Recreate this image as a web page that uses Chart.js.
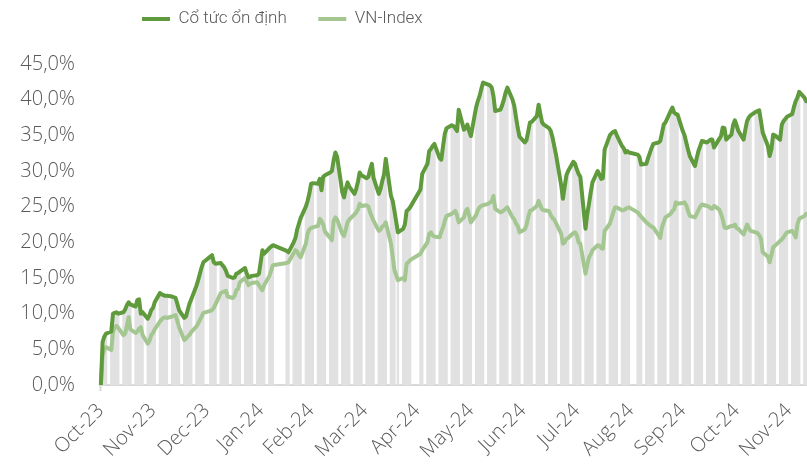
<!DOCTYPE html>
<html>
<head>
<meta charset="utf-8">
<script src="https://cdn.jsdelivr.net/npm/chart.js@4.4.1/dist/chart.umd.min.js"></script>
<style>
    html, body { margin: 0; padding: 0; background: #ffffff; }
    #chart_wrap { width: 807px; height: 474px; position: relative; }
</style>
</head>
<body>
<div id="chart_wrap"><canvas id="perf_chart"></canvas></div>
<script>
const SERIES_NAMES = ['Cổ tức ổn định', 'VN-Index'];
const START_DATE = '2023-10-31';
const END_DATE = '2024-12-10';
const HOLIDAYS = ['2024-01-01', '2024-02-08', '2024-02-09', '2024-02-12', '2024-02-13', '2024-02-14',
    '2024-04-18', '2024-04-29', '2024-04-30', '2024-05-01', '2024-09-02', '2024-09-03'];
const MONTH_NAMES = ['Jan', 'Feb', 'Mar', 'Apr', 'May', 'Jun', 'Jul', 'Aug', 'Sep', 'Oct', 'Nov', 'Dec'];
const Y_MIN = 0;
const Y_MAX = 45;
const Y_STEP = 5;

// cumulative return (%), one value per trading day
const stableDividend = [
    0,
    6.0, 6.8, 7.2, 7.5, 10.0, 10.1, 10.2, 10.0, 10.2, 10.6, 11.2, 11.6, 11.3, 11.0, 11.9, 12.0, 10.0, 10.2, 9.3, 9.8, 10.5, 10.8,
    11.6, 12.9, 12.7, 12.6, 12.5, 12.5, 12.4, 12.3, 12.2, 11.4, 10.5, 9.4, 9.6, 10.5, 11.4, 12.0, 13.9, 14.7, 15.6, 16.5, 17.2,
    18.0, 18.2, 17.2, 17.0, 17.1, 16.8, 16.5, 16.0, 15.3, 15.0, 15.1, 15.6, 15.7, 15.9, 16.4, 15.6, 15.1, 15.2, 15.3, 15.4, 15.6, 17.2,
    18.9, 18.4, 19.2, 19.4, 19.6, 18.8, 18.6, 20.0, 20.6, 21.8, 22.6, 23.4, 25.0, 25.8, 26.8, 28.2,
    28.3, 28.2, 28.9, 27.3, 29.2, 29.4, 29.8, 30.0, 31.5, 32.6, 32.0, 27.0, 26.3, 27.5, 28.4, 27.8, 26.8, 27.5, 28.5, 29.8, 29.4,
    29.0, 29.2, 30.2, 31.0, 29.0, 26.8, 27.5, 28.6, 29.5, 31.7, 26.5, 25.8, 24.4, 21.4, 21.9, 22.5, 24.4, 24.6, 24.9,
    27.4, 29.6, 31.0, 32.8, 33.1, 33.5, 33.8, 31.8, 31.6, 33.5, 35.2, 36.0, 36.4, 36.3, 36.0, 35.6, 38.6, 35.8, 36.0, 36.5, 35.6, 34.9,
    38.9, 39.8, 40.5, 41.5, 42.4, 42.1, 42.0, 41.7, 40.5, 38.4, 38.6, 39.2, 40.0, 41.0, 41.7, 40.0, 39.1, 37.5, 36.0, 34.8,
    34.0, 34.3, 35.5, 36.8, 36.9, 37.7, 39.3, 38.0, 36.8, 36.5, 36.0, 35.6, 34.7, 33.5, 32.3, 28.0, 26.1, 27.8, 29.4, 30.0, 31.3, 31.0, 30.2,
    29.6, 29.2, 21.9, 24.0, 25.4, 27.0, 28.4, 30.0, 29.5, 28.9, 29.0, 33.0, 35.0, 35.3, 35.5, 35.6, 35.0, 33.5, 33.2, 32.6, 32.8, 32.6,
    32.3, 32.0, 30.9, 31.0, 31.8, 32.5, 33.2, 33.8, 34.0, 34.2, 35.3, 36.5, 36.8, 38.4, 38.9, 38.2, 38.0, 37.9, 35.6,
    35.0, 34.0, 33.0, 32.1, 30.7, 31.8, 32.8, 33.5, 34.2, 34.0, 34.2, 34.4, 34.4, 33.3, 34.5, 34.9, 36.1, 36.0, 34.4, 35.1, 36.5, 37.1, 36.4,
    35.6, 34.4, 35.8, 37.0, 37.5, 37.8, 38.3, 38.4, 38.5, 37.0, 35.4, 33.5, 32.1, 33.0, 35.1, 35.0, 34.4, 36.5, 37.0, 37.3, 37.6,
    38.0, 39.0, 39.8, 40.3, 41.1, 40.3, 39.8
];

const vnIndex = [
    0,
    4.2, 5.0, 5.3, 4.9, 7.5, 8.1, 8.3, 8.0, 7.0, 7.2, 8.3, 9.5, 7.8, 7.3, 7.5, 7.9, 8.1, 7.0, 5.8, 6.2, 7.0, 7.3,
    7.8, 8.9, 9.2, 9.4, 9.5, 9.4, 9.6, 9.7, 9.8, 9.0, 8.1, 6.3, 6.5, 6.8, 7.0, 7.4, 8.2, 8.6, 9.1, 9.6, 10.1,
    10.4, 10.5, 10.8, 11.3, 12.9, 13.0, 13.1, 13.2, 12.4, 12.2, 12.5, 13.3, 13.5, 14.4, 15.0, 14.5, 14.0, 14.2, 14.3, 14.4, 14.0, 13.6,
    13.3, 14.0, 15.3, 16.0, 16.8, 17.1, 17.2, 18.5, 18.9, 18.7, 18.2, 17.9, 19.8, 21.2, 21.8, 22.0,
    22.1, 22.3, 23.3, 23.0, 22.5, 21.5, 20.6, 20.3, 23.0, 23.5, 23.2, 21.2, 20.9, 21.8, 22.8, 23.2, 23.9, 24.2, 24.6, 25.4, 25.1,
    25.2, 25.0, 24.2, 23.6, 23.0, 21.6, 21.8, 22.2, 22.4, 22.8, 19.8, 18.0, 16.1, 14.7, 15.0, 14.7, 17.0, 17.2, 17.5,
    18.4, 18.9, 20.0, 21.2, 21.4, 21.0, 20.8, 20.7, 21.5, 22.1, 23.0, 23.7, 24.0, 24.2, 24.4, 23.8, 22.8, 23.5, 24.4, 24.7, 23.8, 22.8,
    23.8, 24.5, 24.9, 25.1, 25.2, 25.4, 25.6, 25.7, 26.5, 24.7, 24.2, 24.3, 24.5, 24.7, 24.9, 23.5, 23.2, 22.6, 22.3, 21.4,
    21.8, 22.4, 23.5, 24.4, 24.5, 25.1, 25.8, 25.2, 24.6, 24.5, 24.4, 23.8, 23.4, 23.2, 22.7, 21.2, 19.8, 20.0, 20.5, 20.6, 21.3, 21.4, 21.0,
    20.0, 19.8, 15.6, 16.8, 17.9, 18.3, 18.9, 19.6, 19.5, 19.2, 19.1, 21.6, 22.6, 23.4, 24.2, 24.9, 24.9, 24.5, 24.5, 24.7, 24.8, 24.9,
    24.2, 23.9, 23.6, 22.8, 22.6, 22.4, 22.2, 22.1, 21.0, 20.6, 22.1, 22.8, 23.5, 24.0, 24.4, 24.6, 25.6, 25.4, 25.5,
    25.6, 25.2, 24.4, 23.7, 23.5, 24.0, 24.5, 25.0, 25.3, 25.1, 25.0, 24.8, 24.7, 25.1, 24.6, 24.0, 23.2, 22.1, 22.0, 22.3, 22.3, 22.5, 22.0,
    21.9, 21.1, 21.8, 22.5, 22.0, 21.6, 21.4, 21.3, 21.0, 20.5, 18.6, 18.0, 17.2, 18.2, 19.3, 19.5, 20.2, 20.4, 20.7, 21.1, 21.4,
    21.6, 21.2, 20.7, 22.5, 23.3, 23.7, 24.0
];

const COLORS = {
    DARK_GREEN: '#5f9b3c',
    LIGHT_GREEN: '#a4c792',
    BAR_GREY: '#e1e1e1',
    AXIS: '#d9d9d9',
    TEXT: '#595959'
};
const AXIS_FONT = '"Open Sans", Lato, sans-serif';
const LEGEND_FONT = 'Roboto, "Liberation Sans", sans-serif';
const LEGEND_HEIGHT = 64;

// one category per calendar day, weekends and holidays stay empty
const buildDailySeries = () => {
    var days = [];
    var divData = [];
    var vnData = [];
    var k = 0;
    for (var t = Date.parse(START_DATE); t <= Date.parse(END_DATE); t += 86400000) {
        var d = new Date(t);
        var iso = d.toISOString().slice(0, 10);
        var wd = d.getUTCDay();
        days.push(d);
        if (wd === 0 || wd === 6 || HOLIDAYS.includes(iso)) {
            divData.push(null);
            vnData.push(null);
        } else {
            divData.push(k < stableDividend.length ? stableDividend[k] : null);
            vnData.push(k < vnIndex.length ? vnIndex[k] : null);
            k++;
        }
    }
    return { days, divData, vnData };
};

const daily = buildDailySeries();

const isMonthEnd = (index) => {
    var d = daily.days[index];
    if (!d) return false;
    var next = new Date(d.getTime() + 86400000);
    return next.getUTCMonth() !== d.getUTCMonth();
};

const monthLabel = (index) => {
    var d = daily.days[index];
    return MONTH_NAMES[d.getUTCMonth()] + '-' + String(d.getUTCFullYear()).slice(2);
};

// fixed legend band height, and the legend moved to where the original has it
const legendPlacement = {
    id: 'legendPlacement',
    beforeInit(chart) {
        var legend = chart.legend;
        var origFit = legend.fit;
        legend.fit = function() {
            origFit.call(this);
            this.height = LEGEND_HEIGHT;
        };
    },
    afterLayout(chart) {
        chart.legend.left = 110.5;
        chart.legend.top = -21;
    }
};

const config = {
    type: 'bar',
    data: {
        labels: daily.days.map((d) => d.toISOString().slice(0, 10)),
        datasets: [
            {
                type: 'line',
                label: SERIES_NAMES[0],
                data: daily.divData,
                borderColor: COLORS.DARK_GREEN,
                backgroundColor: COLORS.DARK_GREEN,
                borderWidth: 4,
                borderCapStyle: 'round',
                borderJoinStyle: 'round',
                pointRadius: 0,
                spanGaps: true,
                tension: 0,
                order: 0
            },
            {
                type: 'line',
                label: SERIES_NAMES[1],
                data: daily.vnData,
                borderColor: COLORS.LIGHT_GREEN,
                backgroundColor: COLORS.LIGHT_GREEN,
                borderWidth: 4,
                borderCapStyle: 'round',
                borderJoinStyle: 'round',
                pointRadius: 0,
                spanGaps: true,
                tension: 0,
                order: 1
            },
            {
                type: 'bar',
                label: 'bars',
                data: daily.divData,
                backgroundColor: COLORS.BAR_GREY,
                borderWidth: 0,
                categoryPercentage: 1,
                barPercentage: 1,
                order: 2
            }
        ]
    },
    options: {
        responsive: true,
        maintainAspectRatio: false,
        animation: false,
        layout: { padding: { left: 0, right: 0, top: 0, bottom: 0 } },
        plugins: {
            legend: {
                display: true,
                position: 'top',
                align: 'start',
                labels: {
                    filter: (item) => item.datasetIndex < 2,
                    usePointStyle: true,
                    pointStyle: 'line',
                    pointStyleWidth: 28,
                    padding: 31.5,
                    color: COLORS.TEXT,
                    font: { family: LEGEND_FONT, size: 17, weight: 300 }
                }
            },
            tooltip: { enabled: false }
        },
        scales: {
            x: {
                offset: true,
                afterFit: (scale) => {
                    scale.height = 89;
                    scale.paddingRight = 0;
                },
                grid: {
                    display: true,
                    offset: false,
                    drawOnChartArea: false,
                    drawTicks: true,
                    tickLength: 6,
                    tickWidth: 2,
                    tickColor: (ctx) => isMonthEnd(ctx.index) ? COLORS.AXIS : 'rgba(0,0,0,0)'
                },
                border: { display: true, color: COLORS.AXIS, width: 2 },
                ticks: {
                    autoSkip: false,
                    maxRotation: 45,
                    minRotation: 45,
                    padding: 8,
                    color: COLORS.TEXT,
                    font: { family: AXIS_FONT, size: 20, weight: 300 },
                    callback: function(value, index) {
                        return isMonthEnd(index) ? monthLabel(index) : null;
                    }
                }
            },
            y: {
                min: Y_MIN,
                max: Y_MAX,
                afterFit: (scale) => { scale.width = 100; },
                grid: { display: false, drawTicks: false },
                border: { display: false },
                ticks: {
                    stepSize: Y_STEP,
                    padding: 25,
                    color: COLORS.TEXT,
                    font: { family: AXIS_FONT, size: 20, weight: 300 },
                    callback: (value) => value.toFixed(1).replace('.', ',') + '%'
                }
            }
        }
    },
    plugins: [legendPlacement]
};

const perfChart = new Chart(document.getElementById('perf_chart'), config);
</script>
</body>
</html>
